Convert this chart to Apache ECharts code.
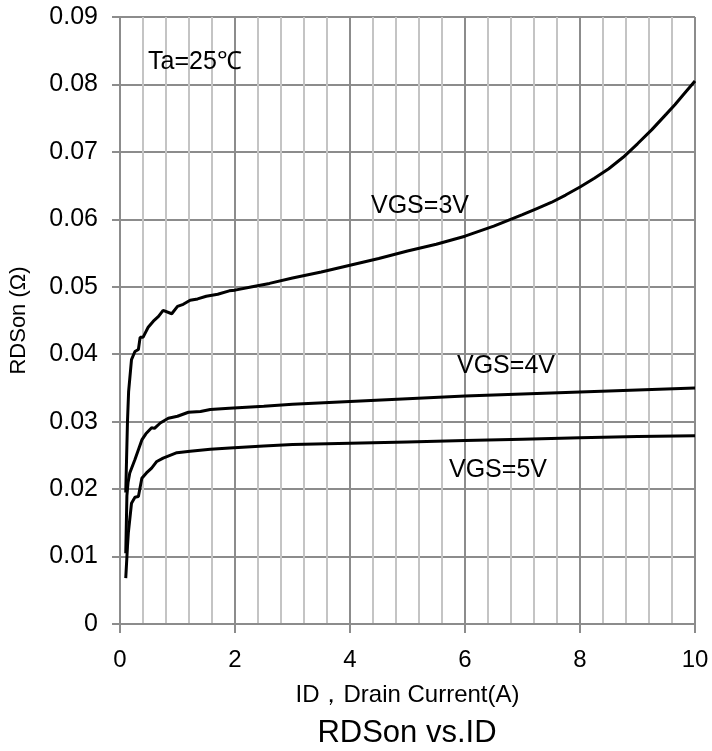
<!DOCTYPE html>
<html>
<head>
<meta charset="utf-8">
<script src="https://cdn.jsdelivr.net/npm/echarts@6/dist/echarts.min.js"></script>
<style>
html,body{margin:0;padding:0;background:#fff;}
#chart{width:712px;height:751px;}
</style>
</head>
<body>
<div id="chart"></div>
<script>
// ID (A) / RDSon (ohm) pairs
var id3 = [0.1,0.13,0.15,0.2,0.26,0.32,0.35,0.4,0.49,0.58,0.67,0.75,0.9,1.0,1.1,1.22,1.35,1.5,1.7,1.9,2.0,2.3,2.6,3.0,3.5,4.0,4.5,5.0,5.5,6.0,6.5,7.0,7.25,7.5,7.75,8.0,8.25,8.5,8.75,9.0,9.25,9.5,9.65,9.8,9.9,10.0];
var r3  = [0.0195,0.0300,0.0345,0.0392,0.0404,0.0407,0.0425,0.0425,0.0440,0.0449,0.0456,0.0465,0.0460,0.0471,0.0474,0.0480,0.0482,0.0486,0.0489,0.0494,0.0495,0.0500,0.0505,0.0513,0.0522,0.0532,0.0542,0.0553,0.0563,0.0575,0.0590,0.0607,0.0616,0.0625,0.0636,0.0648,0.0661,0.0675,0.0692,0.0712,0.0733,0.0756,0.0770,0.0785,0.0795,0.0805];
var id4 = [0.1,0.12,0.14,0.17,0.26,0.38,0.45,0.55,0.6,0.7,0.84,1.0,1.19,1.4,1.57,1.9,2.5,3.0,4.0,5.0,6.0,7.0,8.0,9.0,10.0];
var r4  = [0.0105,0.0190,0.0210,0.0224,0.0244,0.0273,0.0282,0.0291,0.0290,0.0298,0.0305,0.0308,0.0314,0.0315,0.0318,0.0320,0.0323,0.0326,0.0330,0.0334,0.0338,0.0341,0.0344,0.0347,0.0350];
var id5 = [0.1,0.13,0.145,0.2,0.26,0.32,0.38,0.46,0.55,0.64,0.75,0.99,1.22,1.57,1.91,2.5,3.0,4.0,5.0,6.0,7.0,8.0,9.0,10.0];
var r5  = [0.0068,0.0115,0.0135,0.0179,0.0188,0.0189,0.0216,0.0224,0.0231,0.0241,0.0246,0.0254,0.0256,0.0259,0.0261,0.0264,0.0266,0.0268,0.0270,0.0272,0.0274,0.0276,0.0278,0.0279];
var seriesNames = ['VGS=3V','VGS=4V','VGS=5V'];
var xTicks = [0,2,4,6,8,10];
var yTicks = [0,0.01,0.02,0.03,0.04,0.05,0.06,0.07,0.08,0.09];

function pairs(xs, ys){ return xs.map(function(x,i){ return [x, ys[i]]; }); }

var FONT = 'Liberation Sans, Arial, sans-serif';
var major = '#8c8c8c', minor = '#c4c4c4';
var chart = echarts.init(document.getElementById('chart'), null, {renderer:'canvas'});
var lineStyle = {color:'#000', width:3};
chart.setOption({
  animation:false,
  backgroundColor:'#fff',
  textStyle:{fontFamily:FONT},
  title:{text:'RDSon vs.ID', left:407, textAlign:'center', top:718, padding:0,
    textStyle:{fontFamily:FONT,fontSize:31,fontWeight:'normal',color:'#000'}},
  grid:{left:120, right:17, top:17, bottom:127, containLabel:false},
  xAxis:{type:'value', min:xTicks[0], max:xTicks[xTicks.length-1], interval:2,
    name:'ID，Drain Current(A)', nameLocation:'middle', nameGap:59,
    nameTextStyle:{fontFamily:FONT,fontSize:24,color:'#000'},
    axisLine:{show:true, lineStyle:{color:major,width:2}},
    axisTick:{show:true, length:9, lineStyle:{color:major,width:2}},
    axisLabel:{fontFamily:FONT,fontSize:24,color:'#000',margin:24},
    splitLine:{show:true, lineStyle:{color:major,width:2}},
    minorTick:{show:false, splitNumber:5},
    minorSplitLine:{show:true, lineStyle:{color:minor,width:2}}
  },
  yAxis:{type:'value', min:yTicks[0], max:yTicks[yTicks.length-1], interval:0.01,
    name:'RDSon (Ω)', nameLocation:'middle', nameGap:90,
    nameTextStyle:{fontFamily:FONT,fontSize:22,color:'#000'},
    axisLine:{show:true, lineStyle:{color:major,width:2}},
    axisTick:{show:true, length:8, lineStyle:{color:major,width:2}},
    axisLabel:{fontFamily:FONT,fontSize:25,color:'#000',margin:22,
      formatter:function(v){ var s = yTicks.reduce(function(a,t){return Math.abs(t-v)<1e-9?t:a;}, v); return s===0?'0':String(+s.toFixed(2)); }},
    splitLine:{show:true, lineStyle:{color:major,width:2}}
  },
  graphic:[
    {type:'text', z:100, left:148, top:50, style:{text:'Ta=25℃', font:'25px '+FONT, fill:'#000'}},
    {type:'text', z:100, left:371, top:194, style:{text:seriesNames[0], font:'25px '+FONT, fill:'#000'}},
    {type:'text', z:100, left:457, top:354, style:{text:seriesNames[1], font:'25px '+FONT, fill:'#000'}},
    {type:'text', z:100, left:449, top:458, style:{text:seriesNames[2], font:'25px '+FONT, fill:'#000'}}
  ],
  series:[
    {name:seriesNames[0], type:'line', data:pairs(id3,r3), showSymbol:false, lineStyle:lineStyle, z:5},
    {name:seriesNames[1], type:'line', data:pairs(id4,r4), showSymbol:false, lineStyle:lineStyle, z:5},
    {name:seriesNames[2], type:'line', data:pairs(id5,r5), showSymbol:false, lineStyle:lineStyle, z:5}
  ]
});
</script>
</body>
</html>
